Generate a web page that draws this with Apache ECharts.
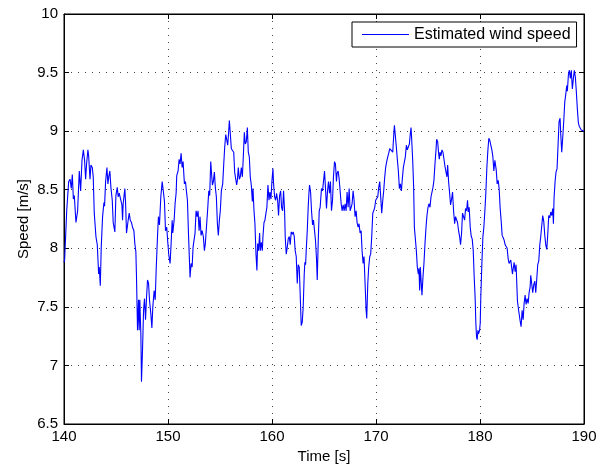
<!DOCTYPE html>
<html>
<head>
<meta charset="utf-8">
<script src="https://cdn.jsdelivr.net/npm/echarts@6/dist/echarts.min.js"></script>
<style>
html, body { margin: 0; padding: 0; background: #fff; }
#chart { width: 609px; height: 467px; }
</style>
</head>
<body>
<div id="chart"></div>
<script>
// time [s]
const times = [
  140.00, 140.06, 140.26, 140.38, 140.45, 140.58, 140.70, 140.80, 140.90, 140.99,
  141.15, 141.31, 141.47, 141.60, 141.73, 141.86, 141.98, 142.08, 142.17, 142.30,
  142.37, 142.50, 142.59, 142.72, 142.81, 142.91, 143.07, 143.20, 143.33, 143.39,
  143.49, 143.58, 143.71, 143.84, 143.90, 144.00, 144.13, 144.22, 144.32, 144.41,
  144.51, 144.64, 144.73, 144.89, 144.99, 145.12, 145.21, 145.31, 145.44, 145.57,
  145.63, 145.69, 145.85, 145.92, 146.01, 146.14, 146.27, 146.37, 146.49, 146.59,
  146.72, 146.81, 146.91, 146.97, 147.07, 147.17, 147.23, 147.29, 147.39, 147.45,
  147.55, 147.65, 147.74, 147.84, 147.93, 148.03, 148.13, 148.22, 148.35, 148.45,
  148.54, 148.67, 148.77, 148.86, 148.99, 149.08, 149.18, 149.31, 149.44, 149.56,
  149.66, 149.76, 149.88, 149.98, 150.08, 150.20, 150.30, 150.40, 150.46, 150.59,
  150.68, 150.78, 150.84, 150.97, 151.07, 151.16, 151.26, 151.36, 151.45, 151.58,
  151.68, 151.77, 151.87, 151.96, 152.06, 152.12, 152.22, 152.32, 152.41, 152.51,
  152.60, 152.70, 152.80, 152.89, 152.99, 153.08, 153.18, 153.28, 153.40, 153.50,
  153.59, 153.72, 153.82, 153.92, 154.01, 154.11, 154.17, 154.27, 154.36, 154.46,
  154.55, 154.65, 154.75, 154.84, 154.94, 155.03, 155.13, 155.26, 155.36, 155.45,
  155.55, 155.64, 155.74, 155.83, 155.90, 155.99, 156.09, 156.19, 156.28,
  156.32, 156.41, 156.51, 156.60, 156.67, 156.76, 156.86, 156.95, 157.05, 157.15,
  157.24, 157.34, 157.43, 157.53, 157.63, 157.72, 157.82, 157.91, 158.01, 158.11,
  158.17, 158.27, 158.36, 158.46, 158.55, 158.62, 158.71, 158.81, 158.87, 158.97,
  159.07, 159.13, 159.23, 159.32, 159.42, 159.51, 159.61, 159.71, 159.80, 159.90,
  159.99, 160.09, 160.15, 160.25, 160.35, 160.44, 160.54, 160.63, 160.73, 160.83,
  160.92, 161.02, 161.11, 161.21, 161.27, 161.37, 161.47, 161.56, 161.66, 161.75,
  161.85, 161.95, 162.04, 162.14, 162.23, 162.33, 162.43, 162.52, 162.62, 162.71,
  162.81, 162.91, 163.00, 163.10, 163.16, 163.23, 163.29, 163.39, 163.48, 163.55,
  163.61, 163.71, 163.80, 163.90, 163.99, 164.09, 164.18, 164.28, 164.35, 164.44,
  164.54, 164.63, 164.76, 164.86, 164.95, 165.05, 165.14, 165.24, 165.34, 165.43,
  165.53, 165.62, 165.72, 165.82, 165.91, 166.01, 166.10, 166.20, 166.26, 166.36,
  166.46, 166.55, 166.65, 166.74, 166.84, 166.94, 167.03, 167.13, 167.22, 167.32,
  167.42, 167.51, 167.61, 167.70, 167.80, 167.89, 167.99, 168.09, 168.18, 168.28,
  168.37, 168.47, 168.57, 168.66, 168.76, 168.85, 168.95, 169.05, 169.11, 169.21,
  169.30, 169.40, 169.49, 169.59, 169.69, 169.78, 169.88, 169.97, 170.07, 170.17,
  170.26, 170.36, 170.45, 170.55, 170.65, 170.74, 170.84, 170.93, 171.03, 171.13,
  171.22, 171.32, 171.41, 171.51, 171.61, 171.70, 171.77, 171.86, 171.96, 172.05,
  172.15, 172.25, 172.34, 172.44, 172.53, 172.63, 172.73, 172.82, 172.92,
  173.01, 173.11, 173.21, 173.30, 173.37, 173.43, 173.53, 173.62, 173.69, 173.78,
  173.88, 173.97, 174.07, 174.13, 174.20, 174.26, 174.36, 174.42, 174.52, 174.61,
  174.71, 174.81, 174.90, 175.00, 175.09, 175.19, 175.29, 175.38, 175.48, 175.57,
  175.67, 175.77, 175.83, 175.93, 176.02, 176.09, 176.15, 176.25, 176.34, 176.44,
  176.53, 176.63, 176.73, 176.82, 176.89, 176.98, 177.08, 177.17, 177.27, 177.36,
  177.46, 177.56, 177.65, 177.75, 177.84, 177.94, 178.04, 178.13, 178.23, 178.32,
  178.42, 178.52, 178.61, 178.71, 178.80, 178.87, 178.96, 179.06, 179.16, 179.25,
  179.35, 179.44, 179.54, 179.60, 179.67, 179.73, 179.80, 179.86, 179.96, 180.02,
  180.08, 180.18, 180.28, 180.37, 180.47, 180.56, 180.66, 180.76, 180.85, 180.95,
  181.04, 181.14, 181.24, 181.33, 181.43, 181.56, 181.65, 181.75, 181.84, 181.94,
  182.04, 182.13, 182.23, 182.32, 182.42, 182.52, 182.61, 182.71, 182.80, 182.96,
  183.12, 183.28, 183.38, 183.47, 183.60, 183.73, 183.86, 183.95, 184.05, 184.15,
  184.24, 184.34, 184.43, 184.53, 184.63, 184.72, 184.82, 184.88, 184.98, 185.07,
  185.17, 185.27, 185.36, 185.46, 185.55, 185.65, 185.75, 185.84, 185.94, 186.03,
  186.13, 186.23, 186.32, 186.42, 186.51, 186.61, 186.71, 186.80, 186.90, 186.99,
  187.06, 187.12, 187.22, 187.31, 187.41, 187.51, 187.60, 187.70, 187.76, 187.86,
  187.95, 188.05, 188.15, 188.24, 188.34, 188.40, 188.50, 188.59, 188.69, 188.78,
  188.88, 188.98, 189.07, 189.17, 189.26, 189.36, 189.46, 189.55, 189.65, 189.74,
  189.81, 190.00
];

// estimated wind speed [m/s]
const speeds = [
  7.88, 7.90, 8.32, 8.33, 8.57, 8.59, 8.51, 8.63, 8.42, 8.45,
  8.22, 8.32, 8.66, 8.49, 8.75, 8.84, 8.75, 8.59, 8.72, 8.84,
  8.79, 8.59, 8.71, 8.69, 8.61, 8.30, 8.10, 8.03, 7.78, 7.84,
  7.68, 8.01, 8.27, 8.39, 8.36, 8.57, 8.69, 8.55, 8.62, 8.66,
  8.52, 8.41, 8.22, 8.14, 8.45, 8.52, 8.44, 8.47, 8.42, 8.37,
  8.24, 8.38, 8.51, 8.39, 8.13, 8.22, 8.30, 8.24, 8.22, 8.18,
  8.15, 8.04, 7.97, 7.76, 7.30, 7.56, 7.30, 7.56, 7.27, 6.86,
  7.13, 7.47, 7.57, 7.39, 7.57, 7.73, 7.70, 7.56, 7.44, 7.32,
  7.50, 7.64, 7.56, 7.81, 8.10, 8.27, 8.20, 8.44, 8.57, 8.48,
  8.40, 8.15, 8.18, 8.05, 7.94, 7.87, 8.04, 8.24, 8.13, 8.24,
  8.38, 8.47, 8.62, 8.66, 8.76, 8.72, 8.81, 8.69, 8.74, 8.55,
  8.57, 8.49, 8.41, 8.15, 7.90, 7.75, 7.87, 7.84, 8.01, 8.00,
  8.13, 8.32, 8.27, 8.32, 8.15, 8.27, 8.11, 8.15, 8.10, 7.98,
  8.04, 8.21, 8.34, 8.49, 8.45, 8.74, 8.66, 8.54, 8.57, 8.65,
  8.52, 8.44, 8.21, 8.11, 8.24, 8.32, 8.49, 8.55, 8.72, 8.86,
  8.97, 8.93, 8.88, 8.99, 9.09, 8.98, 8.85, 8.86, 8.84,
  8.82, 8.65, 8.64, 8.54, 8.58, 8.69, 8.59, 8.61, 8.69, 8.61,
  8.78, 8.99, 8.89, 8.91, 9.03, 8.82, 8.78, 8.61, 8.54, 8.40,
  8.51, 8.32, 8.21, 7.95, 7.81, 8.04, 7.98, 8.13, 7.98, 8.05,
  7.98, 8.10, 8.22, 8.24, 8.30, 8.35, 8.54, 8.41, 8.48, 8.42,
  8.57, 8.68, 8.55, 8.44, 8.41, 8.47, 8.41, 8.28, 8.45, 8.49,
  8.35, 8.32, 8.49, 8.32, 8.10, 7.95, 8.01, 8.08, 8.10, 8.03,
  8.14, 8.12, 8.14, 8.10, 7.98, 7.93, 7.70, 7.86, 7.84, 7.61,
  7.34, 7.37, 7.50, 7.78, 7.88, 7.86, 7.98, 8.15, 8.35, 8.47,
  8.54, 8.48, 8.32, 8.20, 8.24, 8.15, 8.07, 7.91, 7.73, 8.04,
  8.32, 8.35, 8.51, 8.49, 8.57, 8.66, 8.52, 8.34, 8.49, 8.57,
  8.47, 8.57, 8.32, 8.41, 8.61, 8.74, 8.72, 8.57, 8.64, 8.66,
  8.59, 8.49, 8.38, 8.32, 8.37, 8.32, 8.38, 8.32, 8.48, 8.35,
  8.51, 8.32, 8.35, 8.38, 8.49, 8.41, 8.27, 8.32, 8.22, 8.18,
  8.21, 8.13, 8.15, 7.98, 7.87, 7.93, 7.70, 7.47, 7.40, 7.70,
  7.84, 7.93, 7.95, 8.10, 8.30, 8.32, 8.35, 8.41, 8.41, 8.44,
  8.52, 8.57, 8.58, 8.30, 8.41, 8.49, 8.61, 8.69, 8.74, 8.78,
  8.81, 8.85, 8.84, 8.86, 8.82, 8.96, 9.05, 8.96, 8.86, 8.76,
  8.66, 8.51, 8.55, 8.49, 8.59, 8.69, 8.68, 8.78, 8.88,
  8.84, 8.85, 8.89, 8.98, 9.03, 8.93, 8.75, 8.52, 8.18, 8.17,
  7.98, 7.84, 7.78, 7.83, 7.64, 7.84, 7.83, 7.60, 7.76, 7.87,
  8.04, 8.18, 8.28, 8.35, 8.38, 8.35, 8.44, 8.45, 8.52, 8.58,
  8.72, 8.84, 8.93, 8.91, 8.81, 8.76, 8.82, 8.79, 8.84, 8.82,
  8.82, 8.70, 8.71, 8.61, 8.71, 8.57, 8.47, 8.37, 8.42, 8.48,
  8.32, 8.21, 8.27, 8.28, 8.22, 8.15, 8.10, 8.03, 8.13, 8.30,
  8.31, 8.24, 8.34, 8.32, 8.41, 8.31, 8.35, 8.18, 8.10, 8.08,
  7.98, 7.76, 7.56, 7.36, 7.24, 7.22, 7.30, 7.27, 7.30, 7.36,
  7.59, 7.87, 8.10, 8.18, 8.32, 8.47, 8.69, 8.84, 8.94, 8.92,
  8.88, 8.84, 8.78, 8.66, 8.75, 8.67, 8.55, 8.58, 8.51, 8.34,
  8.23, 8.11, 8.09, 8.07, 8.03, 8.04, 8.00, 7.91, 7.87, 7.90,
  7.78, 7.88, 7.80, 7.86, 7.55, 7.46, 7.38, 7.33, 7.47, 7.39,
  7.53, 7.60, 7.52, 7.57, 7.53, 7.62, 7.67, 7.77, 7.76, 7.62,
  7.69, 7.72, 7.62, 7.74, 7.86, 7.89, 8.03, 8.10, 8.11, 8.28,
  8.23, 8.11, 8.03, 7.99, 8.11, 8.28, 8.26, 8.31, 8.28, 8.34,
  8.21, 8.43, 8.57, 8.65, 8.68, 8.89, 9.08, 9.11, 8.98, 8.82,
  8.94, 9.08, 9.25, 9.31, 9.39, 9.34, 9.48, 9.52, 9.45, 9.52,
  9.36, 9.45, 9.52, 9.46, 9.34, 9.19, 9.07, 9.04, 9.05, 9.01,
  9.02, 9.00
];

const seriesName = 'Estimated wind speed';
const xMin = 140, xMax = 190, xStep = 10;
const yMin = 6.5, yMax = 10, yStep = 0.5;

const points = times.map((t, i) => [t, speeds[i]]);

const chart = echarts.init(document.getElementById('chart'), null, { renderer: 'canvas' });

const font = 'Liberation Sans, Arial, Helvetica, sans-serif';
const gridLine = { show: true, lineStyle: { color: '#444', width: 1, type: [1, 6] } };
const ticks = { show: true, inside: true, length: 5, lineStyle: { color: '#000' } };

chart.setOption({
  animation: false,
  backgroundColor: '#fff',
  grid: {
    left: 64, right: 25, top: 14, bottom: 43,
    outerBoundsMode: 'none',
    containLabel: false,
    show: true, borderColor: '#000', borderWidth: 1, backgroundColor: '#fff'
  },
  legend: {
    data: [{ name: seriesName, icon: 'path://M0,0 H47 V1.2 H0 Z' }],
    left: 352, top: 22,
    padding: [4, 6, 4, 10],
    itemWidth: 47, itemHeight: 1.2,
    borderColor: '#000', borderWidth: 1, borderRadius: 0,
    backgroundColor: '#fff',
    itemStyle: { color: '#0000ff' },
    textStyle: { fontFamily: font, fontSize: 16, color: '#000', lineHeight: 17 }
  },
  xAxis: [
    {
      type: 'value', min: xMin, max: xMax, interval: xStep,
      name: 'Time [s]', nameLocation: 'middle', nameGap: 25,
      nameMoveOverlap: false,
      nameTextStyle: { fontFamily: font, fontSize: 15, color: '#000' },
      axisLine: { show: true, lineStyle: { color: '#000' } },
      axisTick: ticks,
      axisLabel: { fontFamily: font, fontSize: 15, color: '#000', margin: 5 },
      splitLine: gridLine
    },
    {
      type: 'value', position: 'top', min: xMin, max: xMax, interval: xStep,
      axisLine: { show: true, lineStyle: { color: '#000' } },
      axisTick: ticks, axisLabel: { show: false }, splitLine: { show: false }
    }
  ],
  yAxis: [
    {
      type: 'value', min: yMin, max: yMax, interval: yStep,
      name: 'Speed [m/s]', nameLocation: 'middle', nameGap: 33,
      nameMoveOverlap: false,
      nameTextStyle: { fontFamily: font, fontSize: 15, color: '#000' },
      axisLine: { show: true, lineStyle: { color: '#000' } },
      axisTick: ticks,
      axisLabel: { fontFamily: font, fontSize: 15, color: '#000', margin: 6 },
      splitLine: gridLine
    },
    {
      type: 'value', position: 'right', min: yMin, max: yMax, interval: yStep,
      axisLine: { show: true, lineStyle: { color: '#000' } },
      axisTick: ticks, axisLabel: { show: false }, splitLine: { show: false }
    }
  ],
  series: [
    {
      name: seriesName,
      type: 'line',
      data: points,
      symbol: 'none',
      lineStyle: { color: '#0000ff', width: 1.1 },
      itemStyle: { color: '#0000ff' }
    }
  ]
});
</script>
</body>
</html>
